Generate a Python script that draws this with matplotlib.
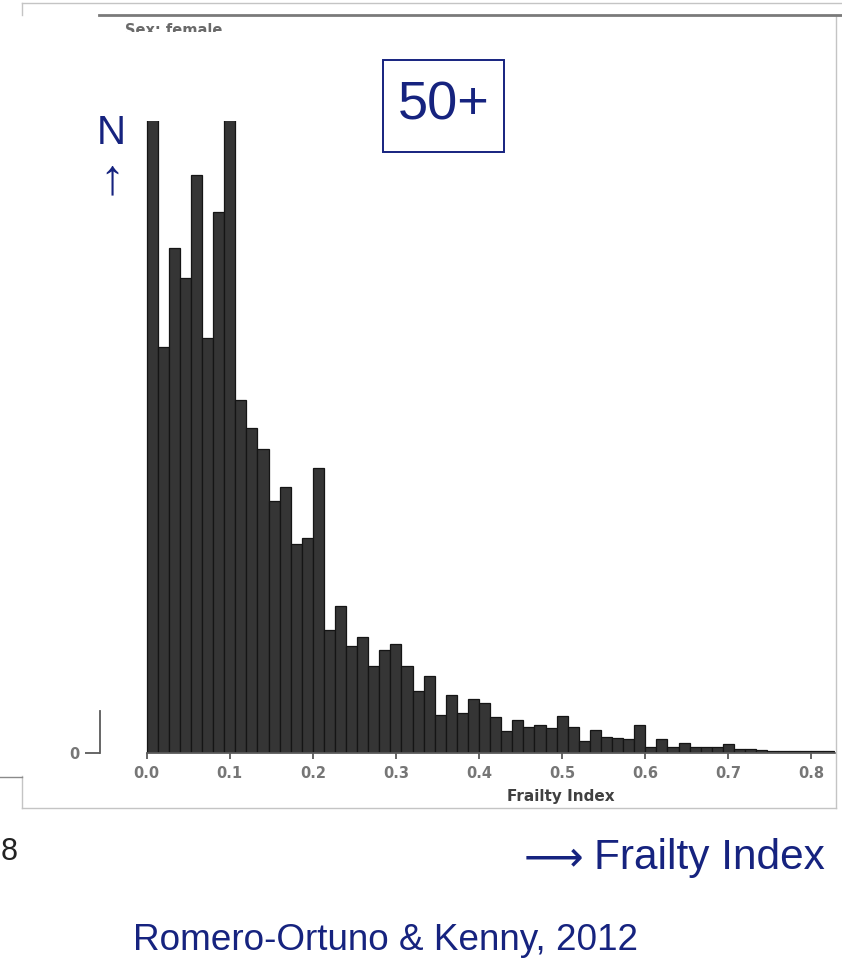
import matplotlib as mpl

mpl.use("Agg")
import matplotlib.pyplot as plt
from matplotlib.lines import Line2D
from matplotlib.patches import Rectangle

# frailty index histogram (bins of width 1/75, starting at 0)
BIN_WIDTH = 1.0 / 75.0
counts = [
    760, 406, 505, 475, 578, 415, 541, 720, 353, 325,
    304, 252, 266, 209, 215, 285, 123, 147, 107, 116,
    87, 103, 109, 87, 62, 77, 38, 58, 40, 54,
    50, 36, 22, 33, 26, 28, 25, 37, 26, 12,
    23, 16, 15, 14, 28, 5.5, 14, 6, 9.5, 5.5,
    5.5, 6, 9, 4, 4, 2.5, 2, 1.5, 1.5, 1.5,
    2, 2,
]
bin_left = [i * BIN_WIDTH for i in range(len(counts))]
x_ticks = [0.0, 0.1, 0.2, 0.3, 0.4, 0.5, 0.6, 0.7, 0.8]
x_tick_labels = ["0.0", "0.1", "0.2", "0.3", "0.4", "0.5", "0.6", "0.7", "0.8"]

W, H = 842, 960
NAVY = "#16237f"
FRAME = "#c4c4c4"
AXIS_GREY = "#5a5a5a"
SANS = ["Liberation Sans", "DejaVu Sans"]


def fx(x):
    return x / W


def fy(y):
    return 1.0 - y / H


def line(fig, xs, ys, **kw):
    fig.add_artist(Line2D([fx(v) for v in xs], [fy(v) for v in ys],
                          transform=fig.transFigure, **kw))


fig = plt.figure(figsize=(W / 100, H / 100), dpi=100)
fig.patch.set_facecolor("white")

# histogram panel
ax = fig.add_axes([fx(100), fy(752.7), (835 - 100) / W, (752.7 - 121) / H])
ax.bar(bin_left, counts, width=BIN_WIDTH, align="edge",
       color="#353535", edgecolor="#151515", linewidth=0.9)
ax.set_xlim(-0.0561, 0.8283)
ax.set_ylim(0, 631.7)
for side in ("top", "right"):
    ax.spines[side].set_visible(False)
ax.spines["left"].set_bounds(0, 42)
ax.spines["bottom"].set_bounds(0, 0.8283)
for side in ("left", "bottom"):
    ax.spines[side].set_color(AXIS_GREY)
    ax.spines[side].set_linewidth(1.3)
ax.set_xticks(x_ticks)
ax.set_xticklabels(x_tick_labels)
ax.set_yticks([0])
ax.set_yticklabels(["0"])
ax.tick_params(axis="x", length=4.5, width=1.3, color=AXIS_GREY, pad=5,
               labelsize=10.5, labelcolor="#767676")
ax.tick_params(axis="y", length=10.5, width=1.3, color=AXIS_GREY, pad=4,
               labelsize=10.5, labelcolor="#767676")
for lab in ax.get_xticklabels() + ax.get_yticklabels():
    lab.set_fontweight("bold")
    lab.set_family("DejaVu Sans")

fig.text(fx(561), fy(797), "Frailty Index", ha="center", va="center",
         fontsize=11, fontweight="bold", color="#404040", family="DejaVu Sans")

# picture frame pasted on the slide
line(fig, [21.7, 842], [3.3, 3.3], color=FRAME, lw=1.0)
line(fig, [21.7, 21.7], [3.3, 15], color=FRAME, lw=1.0)
line(fig, [21.7, 21.7], [776, 808], color=FRAME, lw=1.0)
line(fig, [21.7, 836], [808, 808], color=FRAME, lw=1.0)
line(fig, [836, 836], [15, 808], color=FRAME, lw=1.0)
line(fig, [98.7, 842], [15, 15], color="#7a7a7a", lw=2.0)
line(fig, [0, 21.7], [776.7, 776.7], color="#8a8a8a", lw=1.0)

# half-hidden panel title of the original image
fig.text(fx(125), fy(23), "Sex: female", ha="left", va="top", fontsize=10.5,
         color="#6a6a6a", family="DejaVu Sans", fontweight="bold", zorder=4)
fig.add_artist(Rectangle((fx(100), fy(60)), (320 - 100) / W, (60 - 31.5) / H,
                         transform=fig.transFigure, facecolor="white",
                         edgecolor="none", zorder=5))

# slide annotations
fig.add_artist(Rectangle((fx(383), fy(152)), (504 - 383) / W, (152 - 60) / H,
                         transform=fig.transFigure, facecolor="none",
                         edgecolor=NAVY, lw=1.4, zorder=6))
fig.text(fx(443.5), fy(106), "50+", ha="center", va="center", fontsize=39,
         color=NAVY, family=SANS, zorder=7)
fig.text(fx(111), fy(133), "N", ha="center", va="center", fontsize=29,
         color=NAVY, family=SANS)
fig.text(fx(112), fy(180), "\u2191", ha="center", va="center", fontsize=36,
         color=NAVY, family=SANS)
fig.text(fx(553), fy(858), "\u27f6", ha="center", va="center", fontsize=30,
         color=NAVY, family=["DejaVu Sans"])
fig.text(fx(825), fy(858), "Frailty Index", ha="right", va="center",
         fontsize=30.5, color=NAVY, family=SANS)
fig.text(fx(133), fy(941), "Romero-Ortuno & Kenny, 2012", ha="left",
         va="center", fontsize=26.6, color=NAVY, family=SANS)
fig.text(fx(1), fy(852), "8", ha="left", va="center", fontsize=22,
         color="#222222", family=SANS)

fig.savefig("out.png", dpi=100)
